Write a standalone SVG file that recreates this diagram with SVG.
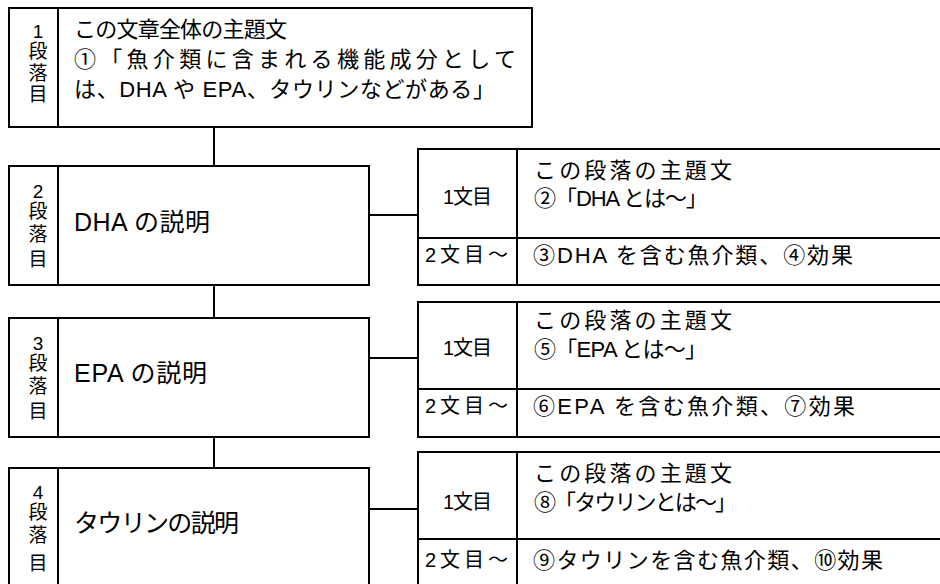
<svg xmlns="http://www.w3.org/2000/svg" width="940" height="584" viewBox="0 0 940 584">
<style>
rect, line { stroke: #000; stroke-width: 2; }
rect { fill: #fff; }
text { font-family: "Liberation Sans", "Noto Sans CJK JP", sans-serif; fill: #000; }
.t { font-size: 22px; }
.v { font-size: 19px; text-anchor: middle; }
.h { font-size: 25px; }
.s { font-size: 20px; }
</style>
<rect x="0" y="0" width="940" height="584" style="fill:#fff;stroke:none"/>
<g id="connectors">
<line x1="214" y1="127" x2="214" y2="166"/>
<line x1="214" y1="285" x2="214" y2="318"/>
<line x1="214" y1="437" x2="214" y2="468"/>
<line x1="369" y1="215" x2="418" y2="215"/>
<line x1="369" y1="358" x2="418" y2="358"/>
<line x1="369" y1="509" x2="418" y2="509"/>
</g>
<g id="p1">
<rect x="9" y="8" width="523" height="119"/>
<line x1="58" y1="8" x2="58" y2="127"/>
<text class="v"><tspan x="38" y="38">1</tspan><tspan x="38" y="58">段</tspan><tspan x="38" y="80">落</tspan><tspan x="38" y="101">目</tspan></text>
<text class="t" x="74" y="37" textLength="213" lengthAdjust="spacing">この文章全体の主題文</text>
<text class="t" x="74" y="67" textLength="442" lengthAdjust="spacing">①「魚介類に含まれる機能成分として</text>
<text class="t" x="74" y="97" textLength="421" lengthAdjust="spacing">は、DHA や EPA、タウリンなどがある」</text>
</g>
<g id="p2">
<rect x="9" y="166" width="360" height="119"/>
<line x1="58" y1="166" x2="58" y2="285"/>
<text class="v"><tspan x="38" y="198">2</tspan><tspan x="38" y="218">段</tspan><tspan x="38" y="241">落</tspan><tspan x="38" y="266">目</tspan></text>
<text class="h" x="74" y="231" textLength="136" lengthAdjust="spacing">DHA の説明</text>
</g>
<g id="p2s">
<rect x="418" y="149" width="530" height="136"/>
<line x1="517" y1="149" x2="517" y2="285"/>
<line x1="418" y1="238" x2="948" y2="238"/>
<text class="s" x="443" y="204" textLength="49" lengthAdjust="spacing">1文目</text>
<text class="t" x="534" y="178" textLength="198" lengthAdjust="spacing">この段落の主題文</text>
<text class="t" x="534" y="206" textLength="174" lengthAdjust="spacing">②「DHA とは〜」</text>
<text class="s" x="425" y="262" textLength="83" lengthAdjust="spacing">2文目〜</text>
<text class="t" x="533" y="263" textLength="320" lengthAdjust="spacing">③DHA を含む魚介類、④効果</text>
</g>
<g id="p3">
<rect x="9" y="318" width="360" height="119"/>
<line x1="58" y1="318" x2="58" y2="437"/>
<text class="v"><tspan x="38" y="350">3</tspan><tspan x="38" y="370">段</tspan><tspan x="38" y="393">落</tspan><tspan x="38" y="418">目</tspan></text>
<text class="h" x="74" y="382" textLength="133" lengthAdjust="spacing">EPA の説明</text>
</g>
<g id="p3s">
<rect x="418" y="302" width="530" height="135"/>
<line x1="517" y1="302" x2="517" y2="437"/>
<line x1="418" y1="389" x2="948" y2="389"/>
<text class="s" x="443" y="355" textLength="49" lengthAdjust="spacing">1文目</text>
<text class="t" x="534" y="328" textLength="198" lengthAdjust="spacing">この段落の主題文</text>
<text class="t" x="534" y="357" textLength="173" lengthAdjust="spacing">⑤「EPA とは〜」</text>
<text class="s" x="425" y="413" textLength="83" lengthAdjust="spacing">2文目〜</text>
<text class="t" x="533" y="414" textLength="322" lengthAdjust="spacing">⑥EPA を含む魚介類、⑦効果</text>
</g>
<g id="p4">
<rect x="9" y="468" width="360" height="140"/>
<line x1="58" y1="468" x2="58" y2="600"/>
<text class="v"><tspan x="38" y="499">4</tspan><tspan x="38" y="519">段</tspan><tspan x="38" y="542">落</tspan><tspan x="38" y="570">目</tspan></text>
<text class="h" x="74" y="532" textLength="165" lengthAdjust="spacing">タウリンの説明</text>
</g>
<g id="p4s">
<rect x="418" y="452" width="530" height="160"/>
<line x1="517" y1="452" x2="517" y2="600"/>
<line x1="418" y1="539" x2="948" y2="539"/>
<text class="s" x="443" y="509" textLength="49" lengthAdjust="spacing">1文目</text>
<text class="t" x="534" y="481" textLength="198" lengthAdjust="spacing">この段落の主題文</text>
<text class="t" x="534" y="510" textLength="203" lengthAdjust="spacing">⑧「タウリンとは〜」</text>
<text class="s" x="425" y="567" textLength="83" lengthAdjust="spacing">2文目〜</text>
<text class="t" x="533" y="568" textLength="350" lengthAdjust="spacing">⑨タウリンを含む魚介類、⑩効果</text>
</g>
</svg>
